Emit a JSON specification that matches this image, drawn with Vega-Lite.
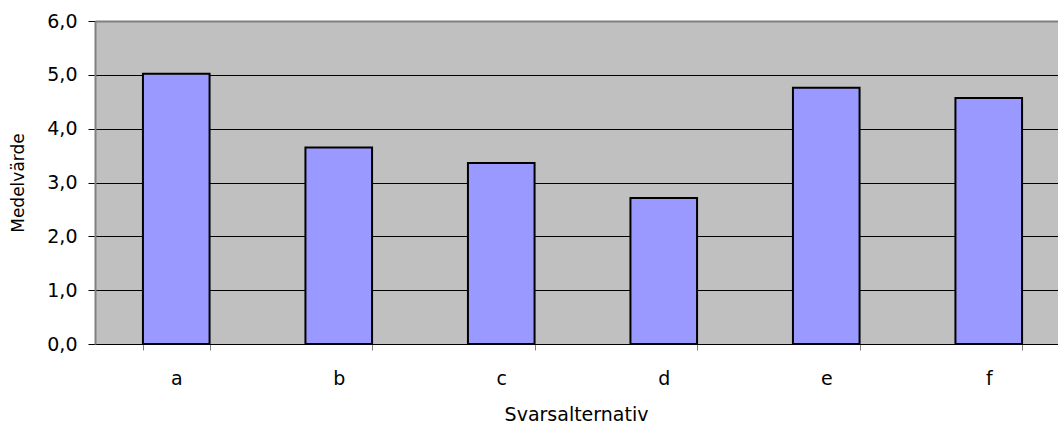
{
  "$schema": "https://vega.github.io/schema/vega-lite/v6.json",
  "width": 963,
  "height": 323,
  "autosize": {"type": "none"},
  "padding": {"left": 95, "top": 21, "right": 0, "bottom": 83},
  "background": "white",
  "config": {
    "font": "DejaVu Sans",
    "view": {"fill": "#C0C0C0", "stroke": null}
  },
  "data": {
    "values": [
      {"alt": "a", "medel": 5.02},
      {"alt": "b", "medel": 3.65},
      {"alt": "c", "medel": 3.36},
      {"alt": "d", "medel": 2.71},
      {"alt": "e", "medel": 4.76},
      {"alt": "f", "medel": 4.57}
    ]
  },
  "mark": {"type": "bar", "fill": "#9999FF", "stroke": "black", "strokeWidth": 2},
  "encoding": {
    "x": {
      "field": "alt",
      "type": "nominal",
      "scale": {"paddingInner": 0.59, "paddingOuter": 0.295, "range": [0, 975]},
      "axis": {
        "title": "Svarsalternativ",
        "titleFont": "DejaVu Sans",
        "titleFontSize": 19,
        "titleFontWeight": "normal",
        "titleColor": "black",
        "titlePadding": 17,
        "titleX": 481,
        "labelAngle": 0,
        "labelFont": "DejaVu Sans",
        "labelFontSize": 19,
        "labelColor": "black",
        "labelPadding": 19,
        "tickBand": "extent",
        "tickSize": 6,
        "tickColor": "#808080",
        "domainColor": "black",
        "domainWidth": 1,
        "grid": false
      }
    },
    "y": {
      "field": "medel",
      "type": "quantitative",
      "scale": {"domain": [0, 6], "nice": false},
      "axis": {
        "title": "Medelvärde",
        "titleFont": "DejaVu Sans",
        "titleFontSize": 17,
        "titleFontWeight": "normal",
        "titleColor": "black",
        "titlePadding": 19,
        "values": [0, 1, 2, 3, 4, 5, 6],
        "labelExpr": "replace(format(datum.value, '.1f'), '.', ',')",
        "labelFont": "DejaVu Sans",
        "labelFontSize": 19,
        "labelColor": "black",
        "labelPadding": 11,
        "tickSize": 7,
        "tickColor": "black",
        "domainColor": "#808080",
        "domainWidth": 2,
        "grid": true,
        "gridColor": {"condition": {"test": "datum.value == 6", "value": "#808080"}, "value": "black"},
        "gridWidth": {"condition": {"test": "datum.value == 6", "value": 2}, "value": 1},
        "gridOpacity": 1
      }
    }
  }
}
